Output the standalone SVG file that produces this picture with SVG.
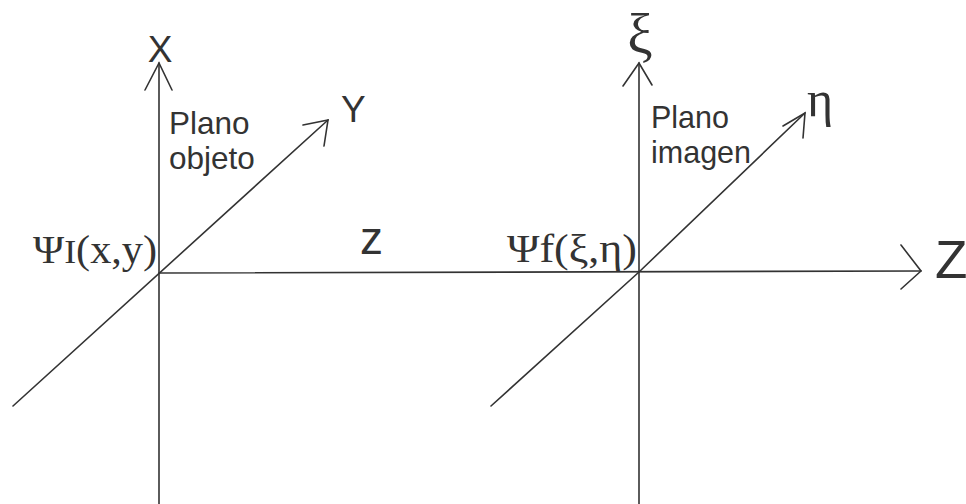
<svg xmlns="http://www.w3.org/2000/svg" width="966" height="504" viewBox="0 0 966 504">
<style>
.ax{fill:none;stroke:#333;stroke-width:1.6;stroke-linecap:round;stroke-linejoin:miter}
.sans{font-family:"Liberation Sans",Arial,sans-serif;fill:#333}
.serif{font-family:"Liberation Serif","Times New Roman",serif;fill:#333}
</style>
<rect width="966" height="504" fill="#fff"/>
<g id="connectors">
<line class="ax" x1="159" y1="63" x2="159" y2="504"/>
<polyline class="ax" points="145,90 159,63 172,90"/>
<line class="ax" x1="13" y1="406" x2="328" y2="120"/>
<polyline class="ax" points="303,125 328,120 324,146"/>
<line class="ax" x1="639" y1="63" x2="639" y2="504"/>
<polyline class="ax" points="623,86 639,63 652,85"/>
<polyline class="ax" points="491,406 639,272 805,113"/>
<polyline class="ax" points="783,126 805,113 803,138"/>
<line class="ax" x1="159" y1="273" x2="921" y2="271"/>
<polyline class="ax" points="901,245 921,271 901,289"/>
</g>
<g id="label-X"><text class="sans" x="160" y="62" font-size="37" text-anchor="middle">X</text></g>
<g id="label-Y"><text class="sans" x="341" y="122" font-size="37">Y</text></g>
<g id="label-Z"><text class="sans" x="935" y="278" font-size="53">Z</text></g>
<g id="label-z"><text class="sans" x="360" y="254" font-size="46">z</text></g>
<g id="label-plano-objeto"><text class="sans" x="169" y="134" font-size="31.5">Plano</text><text class="sans" x="169" y="169" font-size="31.5">objeto</text></g>
<g id="label-plano-imagen"><text class="sans" x="651" y="128" font-size="30.5">Plano</text><text class="sans" x="651" y="163" font-size="30.5">imagen</text></g>
<g id="label-xi"><text class="serif" x="640" y="53" font-size="57" text-anchor="middle">ξ</text></g>
<g id="label-eta"><text class="serif" x="807" y="116" font-size="50">η</text></g>
<g id="label-psi-I"><text class="serif" x="33" y="263" font-size="40" textLength="124" lengthAdjust="spacingAndGlyphs">Ψ<tspan font-size="34">I</tspan>(x,y)</text></g>
<g id="label-psi-f"><text class="serif" x="507" y="262" font-size="40" textLength="130" lengthAdjust="spacingAndGlyphs">Ψf(ξ,η)</text></g>
</svg>
